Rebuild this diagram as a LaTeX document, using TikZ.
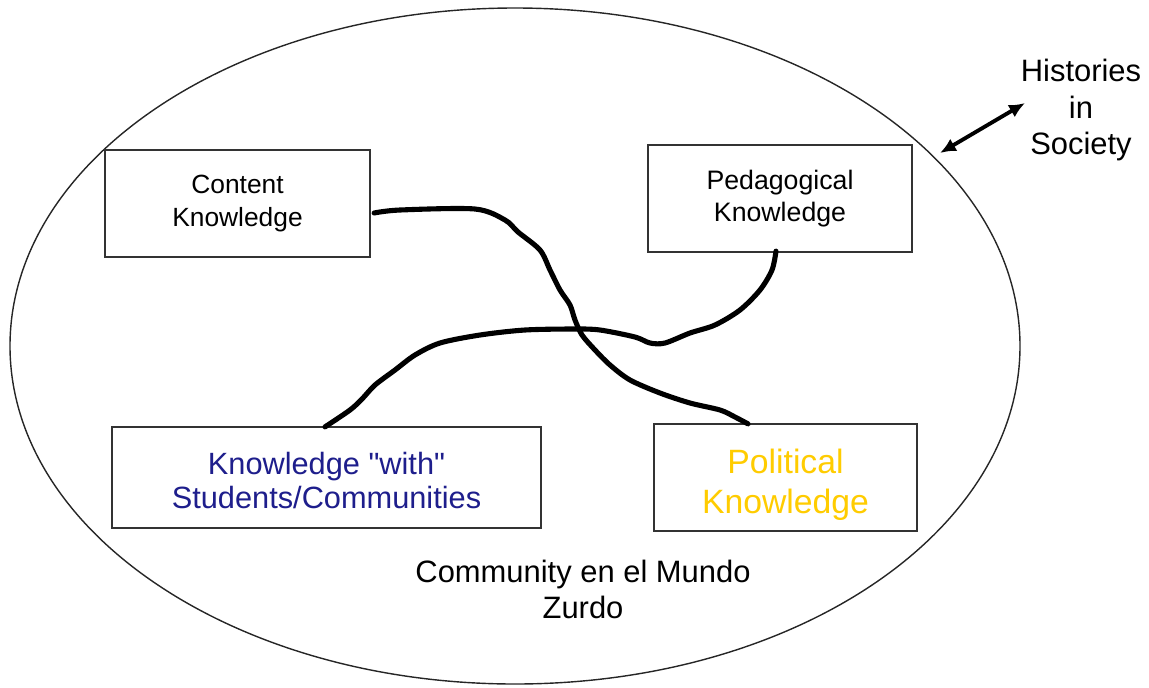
\documentclass[tikz,border=0pt]{standalone}
\usepackage{fontspec}
\setmainfont{Liberation Sans}
\newfontfamily\qfont{Liberation Sans}[Ligatures=TeXOff]
\usetikzlibrary{calc,arrows.meta}
\definecolor{kblue}{RGB}{30,30,140}
\definecolor{kgold}{RGB}{255,204,0}
\begin{document}
\begin{tikzpicture}[x=0.02cm,y=-0.02cm,
  kbox/.style={draw=black!80,line width=1.3pt,fill=white,align=center,inner sep=0pt},
  ktext/.style={align=center,inner sep=0pt},
  handline/.style={line width=2.9pt,line cap=round,line join=round},
  lbl/.style={align=center,inner sep=0pt,font=\fontsize{17.6pt}{20.5pt}\selectfont}]
\useasboundingbox (0,0) rectangle (1149,687);
\draw[line width=0.8pt,black!85] (515,346) ellipse [x radius=505, y radius=338];
\node[kbox,minimum width=265*0.02cm,minimum height=107*0.02cm,font=\fontsize{15pt}{18.3pt}\selectfont] (content) at (237.5,203.5) {Content\\Knowledge};
\node[kbox,minimum width=264*0.02cm,minimum height=107*0.02cm,font=\fontsize{15.2pt}{18.3pt}\selectfont] (peda) at (780,198.5) {Pedagogical\\Knowledge};
\node[kbox,minimum width=429*0.02cm,minimum height=101*0.02cm] (kws) at (326.5,477.5) {};
\node[ktext,font=\fontsize{17.5pt}{19pt}\selectfont,text=kblue] (kwstext) at ($(kws.center)+(0,3)$) {Knowledge {\qfont"}with{\qfont"}\\Students/Communities};
\node[kbox,minimum width=263*0.02cm,minimum height=107*0.02cm] (pol) at (785.5,477.5) {};
\node[ktext,font=\fontsize{19.2pt}{23pt}\selectfont,text=kgold] (poltext) at ($(pol.center)+(0,7)$) {Political\\Knowledge};
\node[lbl] (comm) at (583,589) {Community en el Mundo\\Zurdo};
\node[lbl] (hist) at (1081,110) {Histories\\in\\Society};
\coordinate (a1) at (940,153);
\coordinate (a2) at (1025,103);
\draw[line width=2.2pt,{Latex[length=9pt,width=8pt]}-{Latex[length=9pt,width=8pt]}] (a1) -- (a2);
\draw[handline] plot[smooth,tension=0.5] coordinates {($(content.east)+(3,9.5)$) (400,210) (475,209) (505,220) (518,232) (540,250) (550,270) (560,290) (570,305) (575,320) (582,335) (595,350) (610,365) (630,380) (660,393) (690,403) (720,410) (735,417) ($(pol.north)+(-37.5,1)$)};
\draw[handline] plot[smooth,tension=0.5] coordinates {($(peda.south)+(-4,-2)$) (772,270) (760,290) (740,310) (715,325) (690,333) (665,343) (650,343) (635,337) (600,330) (575,329) (525,330) (480,335) (440,343) (415,355) (395,370) (375,385) (362,399) (350,410) ($(kws.north)+(-1.5,1)$)};
\end{tikzpicture}
\end{document}
